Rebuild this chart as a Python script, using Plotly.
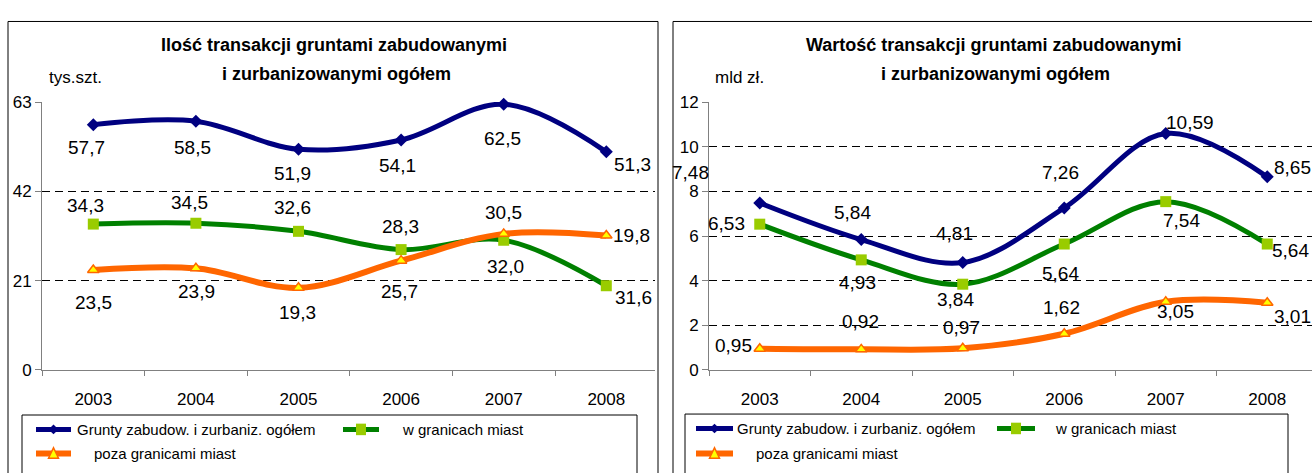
import plotly.graph_objects as go

W, H = 1312, 473

years = ["2003", "2004", "2005", "2006", "2007", "2008"]
series_names = ["Grunty zabudow. i zurbaniz. ogółem", "w granicach miast", "poza granicami miast"]

# Left chart: number of transactions (thousand pcs)
cnt_total = [57.7, 58.5, 51.9, 54.1, 62.5, 51.3]
cnt_city = [34.3, 34.5, 32.6, 28.3, 30.5, 19.8]
cnt_outside = [23.5, 23.9, 19.3, 25.7, 32.0, 31.6]

# Right chart: value of transactions (bn PLN)
val_total = [7.48, 5.84, 4.81, 7.26, 10.59, 8.65]
val_city = [6.53, 4.93, 3.84, 5.64, 7.54, 5.64]
val_outside = [0.95, 0.92, 0.97, 1.62, 3.05, 3.01]

# label offsets in px (dx right, dy down) relative to their point
off_cnt_total = [(-7, 23), (-3, 26), (-6, 24), (-4, 26), (-1, 34), (26, 13)]
off_cnt_city = [(-8, -19), (-6, -21), (-6, -24), (-1, -23), (0, -28), (25, -50)]
off_cnt_outside = [(0, 32), (1, 23), (-1, 25), (-2, 31), (2, 33), (27, 62)]
off_val_total = [(-69, -30), (-9, -27), (-8, -29), (-4, -35), (24, -11), (25, -9)]
off_val_city = [(-33, -1), (-4, 23), (-7, 15), (-4, 29), (16, 19), (23, 6)]
off_val_outside = [(-26, -3), (-1, -28), (-1, -21), (-3, -26), (10, 10), (25, 14)]

FONT = "Liberation Sans, Arial, sans-serif"
BLUE, GREEN, ORANGE = "#000080", "#008000", "#FF6600"
LIME, YELLOW = "#99CC00", "#FFFF00"

styles = [
    dict(color=BLUE, width=5, marker=dict(symbol="diamond", size=10, color=BLUE)),
    dict(color=GREEN, width=5, marker=dict(symbol="square", size=11, color=LIME)),
    dict(color=ORANGE, width=6, marker=dict(symbol="triangle-up", size=10, color=YELLOW,
                                             line=dict(color=ORANGE, width=1.5))),
]

def px(x):
    return x / W

def py(y):
    return 1 - y / H

fig = go.Figure()

panels = [
    dict(xa="x", ya="y", data=[cnt_total, cnt_city, cnt_outside],
         offs=[off_cnt_total, off_cnt_city, off_cnt_outside], dec=1),
    dict(xa="x2", ya="y2", data=[val_total, val_city, val_outside],
         offs=[off_val_total, off_val_city, off_val_outside], dec=2),
]

annotations = []
for p in panels:
    for i, vals in enumerate(p["data"]):
        st = styles[i]
        fig.add_trace(go.Scatter(
            x=years, y=vals, mode="lines+markers", name=series_names[i],
            line=dict(color=st["color"], width=st["width"], shape="spline", smoothing=1.0),
            marker=st["marker"], xaxis=p["xa"], yaxis=p["ya"], showlegend=False,
            cliponaxis=False, hoverinfo="skip",
        ))
        for j, v in enumerate(vals):
            dx, dy = p["offs"][i][j]
            annotations.append(dict(
                x=j, y=v, xref=p["xa"], yref=p["ya"],
                text=f"{v:.{p['dec']}f}".replace(".", ","), showarrow=False,
                xanchor="center", yanchor="middle", xshift=dx, yshift=-dy,
                font=dict(family=FONT, size=19, color="#000"),
            ))

# titles and unit labels
def txt(x, y, s, size, anchor="center"):
    annotations.append(dict(x=px(x), y=py(y), xref="paper", yref="paper", text=s,
                            showarrow=False, xanchor=anchor, yanchor="middle",
                            font=dict(family=FONT, size=size, color="#000")))

txt(334, 38, "<b>Ilość transakcji gruntami zabudowanymi</b>", 18)
txt(336, 68, "<b>i zurbanizowanymi ogółem</b>", 18)
txt(993, 38, "<b>Wartość transakcji gruntami zabudowanymi</b>", 18)
txt(995, 68, "<b>i zurbanizowanymi ogółem</b>", 18)
txt(47, 71, "tys.szt.", 17, "left")
txt(713, 71, "mld zł.", 17, "left")

shapes = []
# panel frames
shapes.append(dict(type="rect", xref="paper", yref="paper", x0=px(8), x1=px(658), y0=py(490), y1=py(13),
                   line=dict(color="#000", width=1), fillcolor="rgba(0,0,0,0)", layer="below"))
shapes.append(dict(type="rect", xref="paper", yref="paper", x0=px(673), x1=px(1330), y0=py(490), y1=py(13),
                   line=dict(color="#000", width=1), fillcolor="rgba(0,0,0,0)", layer="below"))

# legends (drawn manually)
def legend(box, items):
    x0, x1, y0 = box
    shapes.append(dict(type="rect", xref="paper", yref="paper", x0=px(x0), x1=px(x1), y0=py(490), y1=py(y0),
                       line=dict(color="#000", width=1), fillcolor="white"))
    for (sx0, sx1, sy, tx, idx) in items:
        st = styles[idx]
        shapes.append(dict(type="line", xref="paper", yref="paper", x0=px(sx0), x1=px(sx1), y0=py(sy), y1=py(sy),
                           line=dict(color=st["color"], width=st["width"])))
        cx = (sx0 + sx1) / 2
        if idx == 0:
            path = f"M {px(cx-5)},{py(sy)} L {px(cx)},{py(sy-5)} L {px(cx+5)},{py(sy)} L {px(cx)},{py(sy+5)} Z"
            shapes.append(dict(type="path", xref="paper", yref="paper", path=path,
                               fillcolor=BLUE, line=dict(color=BLUE, width=0)))
        elif idx == 1:
            shapes.append(dict(type="rect", xref="paper", yref="paper", x0=px(cx-5), x1=px(cx+5),
                               y0=py(sy+6), y1=py(sy-6), fillcolor=LIME, line=dict(width=0)))
        else:
            path = f"M {px(cx-5)},{py(sy+5)} L {px(cx)},{py(sy-6)} L {px(cx+5)},{py(sy+5)} Z"
            shapes.append(dict(type="path", xref="paper", yref="paper", path=path,
                               fillcolor=YELLOW, line=dict(color=ORANGE, width=1.5)))
        annotations.append(dict(x=px(tx), y=py(sy), xref="paper", yref="paper", text=series_names[idx],
                                showarrow=False, xanchor="left", yanchor="middle",
                                font=dict(family=FONT, size=15, color="#000")))

legend((22, 637, 423), [(36, 71, 438, 75, 0), (343, 379, 438, 400, 1), (36, 71, 463, 92, 2)])
legend((685, 1288, 422), [(696, 733, 437, 735, 0), (997, 1035, 437, 1053, 1), (696, 733, 463, 754, 2)])

ydom = [py(376), py(97)]
axis_common_x = dict(type="category", showgrid=False, showline=True, linecolor="#808080", linewidth=1,
                     ticks="outside", ticklen=5, tickcolor="#808080", tickson="boundaries",
                     tickfont=dict(family=FONT, size=17, color="#000"), ticklabelstandoff=14,
                     zeroline=False, fixedrange=True)
axis_common_y = dict(showgrid=True, gridcolor="#000", griddash="8px,5px", gridwidth=1,
                     showline=True, linecolor="#808080", linewidth=1, ticks="outside", ticklen=6,
                     tickcolor="#808080", tickfont=dict(family=FONT, size=17, color="#000"),
                     zeroline=False, domain=ydom, fixedrange=True)

fig.update_layout(
    width=W, height=H, margin=dict(l=0, r=0, t=0, b=0),
    paper_bgcolor="white", plot_bgcolor="rgba(0,0,0,0)",
    xaxis=dict(axis_common_x, domain=[px(42), px(655)], range=[-0.5, -0.5 + (655 - 42) / 102.6], anchor="y"),
    yaxis=dict(axis_common_y, range=[0, 63], tick0=0, dtick=21, anchor="x"),
    xaxis2=dict(axis_common_x, domain=[px(709), 1.0], range=[-0.5, -0.5 + (1312 - 709) / 101.5], anchor="y2"),
    yaxis2=dict(axis_common_y, range=[0, 12], tick0=0, dtick=2, anchor="x2"),
    annotations=annotations, shapes=shapes, showlegend=False,
)

reset_css = (
    "document.documentElement.style.margin='0';"
    "document.documentElement.style.padding='0';"
    "document.documentElement.style.overflow='hidden';"
    "document.body.style.margin='0';"
    "document.body.style.padding='0';"
    "document.body.style.overflow='hidden';"
)
fig.write_html("out.html", post_script=reset_css, config={"displayModeBar": False})
